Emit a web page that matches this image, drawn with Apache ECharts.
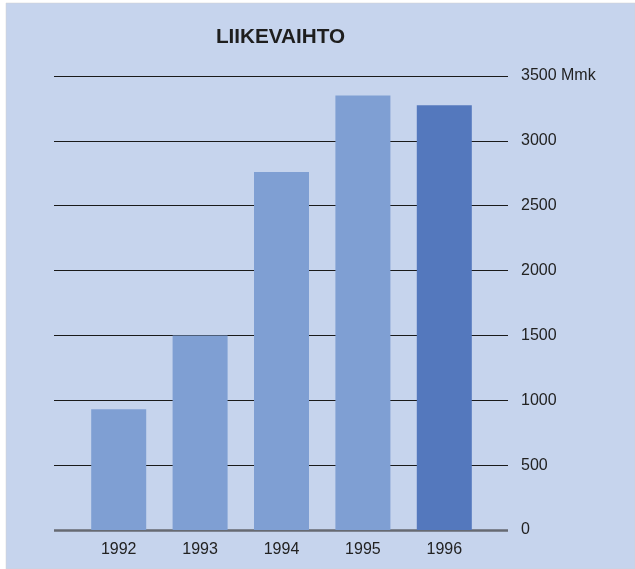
<!DOCTYPE html>
<html>
<head>
<meta charset="utf-8">
<script src="https://cdn.jsdelivr.net/npm/echarts@6/dist/echarts.min.js"></script>
<style>html,body{margin:0;padding:0;background:#fff;}#c{width:635px;height:569px;}</style>
</head>
<body>
<div id="c"></div>
<script>
var categories = ['1992', '1993', '1994', '1995', '1996'];
var values = [930, 1500, 2760, 3350, 3275];
var highlightYear = '1996';
var yTicks = [0, 500, 1000, 1500, 2000, 2500, 3000, 3500];
var titleText = 'LIIKEVAIHTO';
var unitText = 'Mmk';

var chart = echarts.init(document.getElementById('c'), null, {renderer: 'canvas'});
var yMax = yTicks[yTicks.length - 1];
var option = {
  backgroundColor: '#ffffff',
  animation: false,
  graphic: [{
    type: 'rect', z: -10, silent: true,
    shape: {x: 6, y: 3, width: 629, height: 566},
    style: {fill: '#c6d4ed', stroke: '#d0d0d0', lineWidth: 0.5}
  }, {
    type: 'text', x: 280.5, y: 37.5, scaleX: 1.15, scaleY: 1.08, silent: true,
    style: {text: titleText, font: 'bold 18px "Liberation Sans", Arial, sans-serif',
      fill: '#1e1e1e', align: 'center', verticalAlign: 'middle'}
  }],
  grid: [
    {left: 54, right: 127, top: 76, bottom: 39},
    {left: 78, right: 150, top: 76, bottom: 39}
  ],
  xAxis: [
    {gridIndex: 0, type: 'category', data: categories, show: false},
    {gridIndex: 1, type: 'category', data: categories,
     axisLine: {show: false}, axisTick: {show: false},
     axisLabel: {margin: 12, fontFamily: 'Liberation Sans', fontSize: 16, color: '#222'}}
  ],
  yAxis: [
    {gridIndex: 0, type: 'value', position: 'right', min: 0, max: yMax, interval: 500,
     axisLine: {show: false}, axisTick: {show: false},
     splitLine: {show: true, lineStyle: {color: '#1a1a1a', width: 1}},
     axisLabel: {margin: 13, fontFamily: 'Liberation Sans', fontSize: 16, color: '#222',
       formatter: function (v) { return v === yMax ? v + ' ' + unitText : String(v); }}},
    {gridIndex: 1, type: 'value', min: 0, max: yMax, interval: 500, show: false}
  ],
  series: [
    {type: 'line', xAxisIndex: 0, yAxisIndex: 0, data: [], silent: true,
     markLine: {symbol: 'none', silent: true, label: {show: false},
       lineStyle: {color: '#666a72', width: 2.5, type: 'solid'}, data: [{yAxis: 0}]}},
    {type: 'bar', xAxisIndex: 1, yAxisIndex: 1, barWidth: 55, z: 5,
     data: values.map(function (v, i) {
       return {value: v, itemStyle: {color: categories[i] === highlightYear ? '#5478bd' : '#7f9fd3'}};
     })}
  ]
};
chart.setOption(option);
</script>
</body>
</html>
